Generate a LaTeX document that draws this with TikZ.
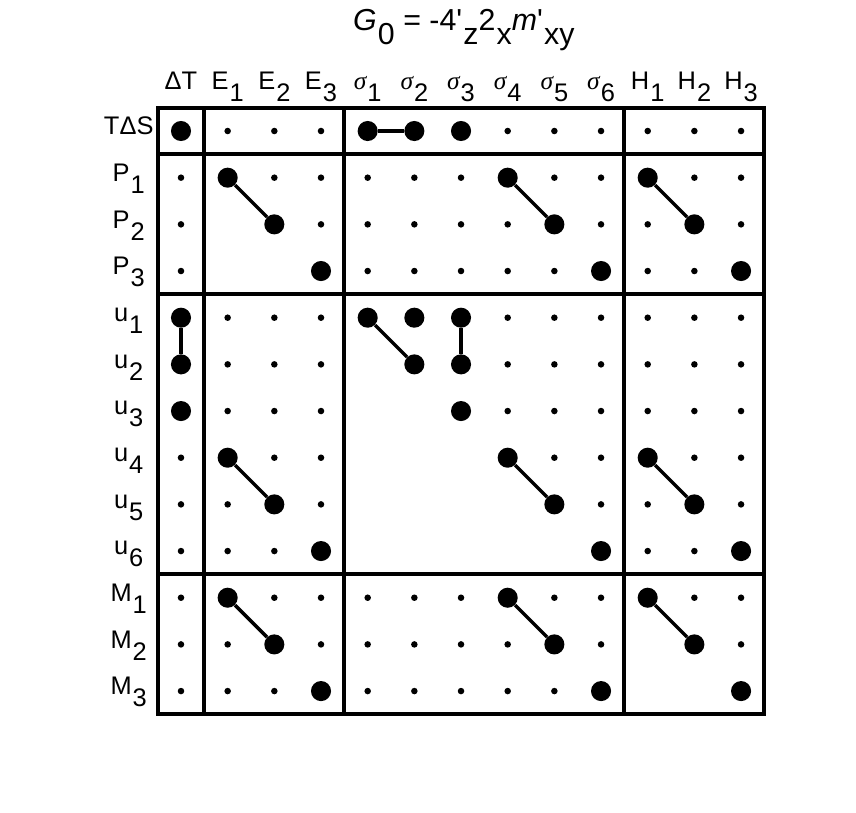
\documentclass[tikz,border=0pt]{standalone}
\usepackage{fontspec}
\setmainfont{Liberation Sans}[Ligatures=TeXOff]
\newfontfamily\sigmafont{Liberation Serif}[Ligatures=TeXOff]
\newcommand{\lowsub}[1]{\kern0.04em\raisebox{-0.47em}{#1}}
\newcommand{\sig}[1]{{\sigmafont\itshape σ}\lowsub{#1}}
\tikzset{
    bigdot/.style = {circle, fill=black, inner sep=0pt, minimum size=0.43cm},
    smalldot/.style = {circle, fill=black, inner sep=0pt, minimum size=0.14cm},
    link/.style = {-, line width=2.1pt},
    frame/.style = {line width=2.4pt},
    headlabel/.style = {anchor=base, inner sep=0pt, font=\fontsize{15.5}{18}\selectfont},
    rowlabel/.style = {anchor=base, inner sep=0pt, font=\fontsize{15.5}{18}\selectfont},
}
\begin{document}
\begin{tikzpicture}
\useasboundingbox (-3.878,2.807) rectangle (14.463,-14.592);
\node[anchor=base, inner sep=0pt, font=\fontsize{18.5}{22}\selectfont] (title) at (6.06,2.16)
    {\textit{G}\lowsub{0} = -4'\lowsub{z}2\lowsub{x}\textit{m}'\lowsub{xy}};
% column headings
\foreach \txt [count=\x from 0] in {ΔT, E\lowsub{1}, E\lowsub{2}, E\lowsub{3},
    \sig{1}, \sig{2}, \sig{3}, \sig{4}, \sig{5}, \sig{6},
    H\lowsub{1}, H\lowsub{2}, H\lowsub{3}}
    \node[headlabel] (h\x) at (\x,0.89) {\txt};
% row headings
\foreach \txt [count=\y from 0] in {TΔS, P\lowsub{1}, P\lowsub{2}, P\lowsub{3},
    u\lowsub{1}, u\lowsub{2}, u\lowsub{3}, u\lowsub{4}, u\lowsub{5}, u\lowsub{6},
    M\lowsub{1}, M\lowsub{2}, M\lowsub{3}}
    \node[rowlabel] (r\y) at (-1.12,-\y-0.08) {\txt};
% 0 = empty, 1 = small dot, 2 = big dot
\foreach \cells [count=\y from 0] in {
    {2,1,1,1,2,2,2,1,1,1,1,1,1},
    {1,2,1,1,1,1,1,2,1,1,2,1,1},
    {1,0,2,1,1,1,1,1,2,1,1,2,1},
    {1,0,0,2,1,1,1,1,1,2,1,1,2},
    {2,1,1,1,2,2,2,1,1,1,1,1,1},
    {2,1,1,1,0,2,2,1,1,1,1,1,1},
    {2,1,1,1,0,0,2,1,1,1,1,1,1},
    {1,2,1,1,0,0,0,2,1,1,2,1,1},
    {1,1,2,1,0,0,0,0,2,1,1,2,1},
    {1,1,1,2,0,0,0,0,0,2,1,1,2},
    {1,2,1,1,1,1,1,2,1,1,2,1,1},
    {1,1,2,1,1,1,1,1,2,1,0,2,1},
    {1,1,1,2,1,1,1,1,1,2,0,0,2}}{
  \foreach \k [count=\x from 0] in \cells {
    \ifcase\k
    \or \node[smalldot] (d\y-\x) at (\x,-\y) {};
    \or \node[bigdot] (d\y-\x) at (\x,-\y) {};
    \fi
  }
}
%
\draw[link] (d0-4) -- (d0-5);
\draw[link] (d1-1) -- (d2-2);
\draw[link] (d1-7) -- (d2-8);
\draw[link] (d1-10) -- (d2-11);
%
\draw[link] (d4-0) -- (d5-0);
\draw[link] (d4-4) -- (d5-5);
\draw[link] (d4-6) -- (d5-6);
%
\draw[link] (d7-1) -- (d8-2);
\draw[link] (d7-7) -- (d8-8);
\draw[link] (d7-10) -- (d8-11);
%
\draw[link] (d10-1) -- (d11-2);
\draw[link] (d10-7) -- (d11-8);
\draw[link] (d10-10) -- (d11-11);
% blocks
\draw[frame] (-0.5,0.5) rectangle (12.5,-12.5);
\draw[frame] (0.5,0.5) -- (0.5,-12.5);
\draw[frame] (3.5,0.5) -- (3.5,-12.5);
\draw[frame] (9.5,0.5) -- (9.5,-12.5);
\draw[frame] (-0.5,-0.5) -- (12.5,-0.5);
\draw[frame] (-0.5,-3.5) -- (12.5,-3.5);
\draw[frame] (-0.5,-9.5) -- (12.5,-9.5);
\end{tikzpicture}
\end{document}
